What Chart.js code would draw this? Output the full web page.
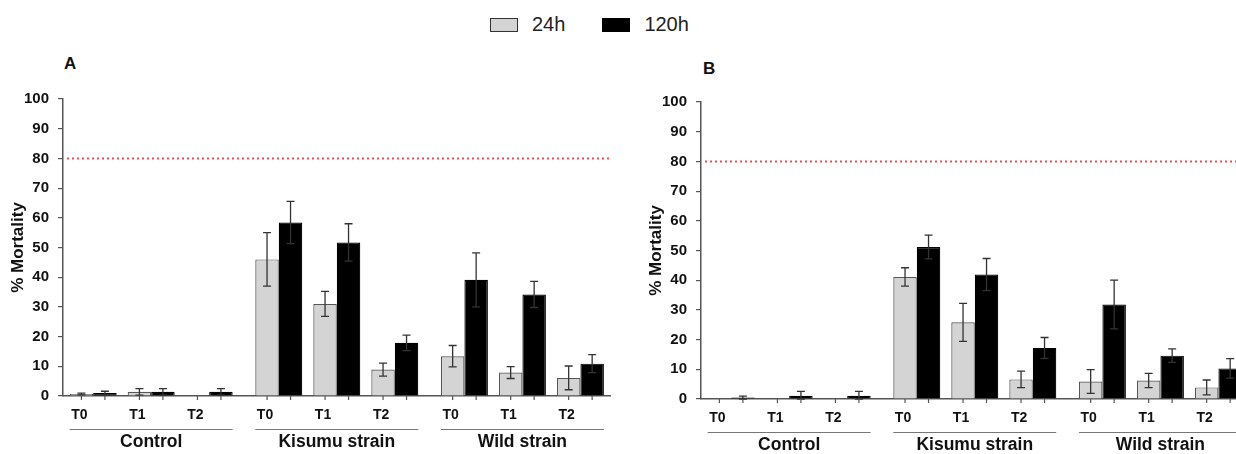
<!DOCTYPE html>
<html>
<head>
<meta charset="utf-8">
<script src="https://cdn.jsdelivr.net/npm/chart.js@4.4.1/dist/chart.umd.min.js"></script>
<style>
  html, body { margin: 0; padding: 0; background: #fff; }
  body { width: 1236px; height: 454px; overflow: hidden; position: relative; font-family: "Liberation Sans", Arial, sans-serif; }
  .panel { position: absolute; width: 625px; height: 454px; }
  .letter { position: absolute; font-weight: bold; font-size: 17px; color: #111; }
  #legend { position: absolute; left: 490px; top: 13px; display: flex; align-items: center; font-size: 20px; color: #222; }
  #legend .sw { display: inline-block; width: 28px; height: 14px; box-sizing: border-box; margin-right: 14px; }
  #legend .item { display: flex; align-items: center; margin-right: 37px; }
</style>
</head>
<body>
<div id="legend"></div>
<div class="letter" style="left:64px;top:54px">A</div>
<div class="letter" style="left:703px;top:59px">B</div>
<div class="panel" style="left:0;top:0"><canvas id="chartA"></canvas></div>
<div class="panel" style="left:638px;top:3px"><canvas id="chartB"></canvas></div>
<script>
// categories
const timeLabels = ['T0', 'T1', 'T2', 'T0', 'T1', 'T2', 'T0', 'T1', 'T2'];
const groupNames = ['Control', 'Kisumu strain', 'Wild strain'];
const groupOf = [0, 0, 0, 1, 1, 1, 2, 2, 2];
// bar pair positions on the x axis (small extra gap between groups)
const xPos = [0, 1, 2, 3.2, 4.2, 5.2, 6.4, 7.4, 8.4];
const seriesLabels = ['24h', '120h'];
const seriesColors = ['#d4d4d4', '#000000'];
const seriesBorders = ['#555555', '#000000'];
const yTicks = [0, 10, 20, 30, 40, 50, 60, 70, 80, 90, 100];
const threshold = 80;

// panel A
const a24 = [0.7, 1.4, 0, 46.0, 31.0, 8.9, 13.4, 7.9, 6.1];
const a24Err = [0.3, 1.1, 0, 9.0, 4.2, 2.2, 3.6, 2.0, 4.0];
const a120 = [1.0, 1.4, 1.4, 58.4, 51.7, 17.9, 39.1, 34.2, 10.9];
const a120Err = [0.6, 1.1, 1.1, 7.1, 6.3, 2.6, 9.1, 4.4, 3.0];

// panel B
const b24 = [0, 0, 0, 41.1, 25.8, 6.6, 5.9, 6.2, 3.9];
const b24Err = [0, 0, 0, 3.1, 6.4, 2.8, 4.0, 2.4, 2.5];
const b120 = [0.5, 1.1, 1.1, 51.2, 41.9, 17.2, 31.8, 14.6, 10.3];
const b120Err = [0.5, 1.5, 1.5, 4.0, 5.4, 3.5, 8.2, 2.3, 3.3];

const FONT = '"Liberation Sans", Arial, sans-serif';

// legend
const legend = document.getElementById('legend');
seriesLabels.forEach((lab, i) => {
  const it = document.createElement('div');
  it.className = 'item';
  const sw = document.createElement('span');
  sw.className = 'sw';
  sw.style.background = seriesColors[i];
  sw.style.border = '1.5px solid ' + (i === 0 ? '#333' : '#000');
  it.appendChild(sw);
  const t = document.createElement('span');
  t.textContent = lab;
  it.appendChild(t);
  legend.appendChild(it);
});

const errorBars = {
  id: 'errorBars',
  afterDatasetsDraw(chart) {
    const ctx = chart.ctx, y = chart.scales.y;
    ctx.save();
    ctx.strokeStyle = '#333';
    ctx.lineWidth = 1.3;
    chart.data.datasets.forEach((ds, di) => {
      const meta = chart.getDatasetMeta(di);
      meta.data.forEach((el, i) => {
        const v = ds.data[i].y, e = ds.err[i];
        if (!e) return;
        const top = y.getPixelForValue(v + e), bot = y.getPixelForValue(Math.max(0, v - e));
        ctx.beginPath();
        ctx.moveTo(el.x, top); ctx.lineTo(el.x, bot);
        ctx.moveTo(el.x - 4, top); ctx.lineTo(el.x + 4, top);
        ctx.moveTo(el.x - 4, bot); ctx.lineTo(el.x + 4, bot);
        ctx.stroke();
      });
    });
    ctx.restore();
  }
};

const refLine = {
  id: 'refLine',
  beforeDatasetsDraw(chart) {
    const ctx = chart.ctx, a = chart.chartArea;
    const py = chart.scales.y.getPixelForValue(threshold);
    ctx.save();
    ctx.strokeStyle = '#e8505a';
    ctx.lineWidth = 2;
    ctx.setLineDash([2, 3]);
    ctx.beginPath();
    ctx.moveTo(a.left + 4, py); ctx.lineTo(a.right, py);
    ctx.stroke();
    ctx.restore();
  }
};

const xDecor = {
  id: 'xDecor',
  afterDraw(chart) {
    const ctx = chart.ctx, a = chart.chartArea;
    const m0 = chart.getDatasetMeta(0), m1 = chart.getDatasetMeta(1);
    ctx.save();
    // small tick marks under each bar
    ctx.strokeStyle = '#555';
    ctx.lineWidth = 1.2;
    ctx.beginPath();
    [m0, m1].forEach(m => m.data.forEach(el => { ctx.moveTo(el.x, a.bottom); ctx.lineTo(el.x, a.bottom + 4); }));
    ctx.stroke();
    // T0/T1/T2
    ctx.fillStyle = '#111';
    ctx.textAlign = 'center';
    ctx.textBaseline = 'middle';
    ctx.font = 'bold 14px ' + FONT;
    m0.data.forEach((el, i) => ctx.fillText(timeLabels[i], el.x - 2, a.bottom + 19));
    // group lines and names
    groupNames.forEach((g, gi) => {
      const idx = groupOf.map((v, i) => v === gi ? i : -1).filter(i => i >= 0);
      const first = m0.data[idx[0]], last = m1.data[idx[idx.length - 1]];
      const x1 = first.x - first.width / 2, x2 = last.x + last.width / 2;
      ctx.strokeStyle = '#777';
      ctx.lineWidth = 1;
      ctx.beginPath();
      ctx.moveTo(x1, a.bottom + 33.5); ctx.lineTo(x2, a.bottom + 33.5);
      ctx.stroke();
      ctx.font = 'bold 17.5px ' + FONT;
      ctx.fillText(g, (x1 + x2) / 2, a.bottom + 46);
    });
    ctx.restore();
  }
};

function makeChart(id, v24, e24, v120, e120) {
  const pts = vals => xPos.map((x, i) => ({ x: x, y: vals[i] }));
  return new Chart(document.getElementById(id), {
    type: 'bar',
    data: {
      datasets: [
        { label: seriesLabels[0], data: pts(v24), err: e24, backgroundColor: seriesColors[0], borderColor: seriesBorders[0], borderWidth: 1.2 },
        { label: seriesLabels[1], data: pts(v120), err: e120, backgroundColor: seriesColors[1], borderColor: seriesBorders[1], borderWidth: 1.2 }
      ]
    },
    options: {
      responsive: true,
      maintainAspectRatio: false,
      animation: false,
      categoryPercentage: 0.81,
      barPercentage: 1.0,
      layout: { padding: { left: 0, right: 15, top: 99, bottom: 58 } },
      plugins: { legend: { display: false }, tooltip: { enabled: false } },
      scales: {
        x: {
          type: 'linear', min: -0.52, max: 8.91, offset: false,
          grid: { display: false, offset: false },
          ticks: { display: false },
          border: { display: true, color: '#555', width: 1.5 },
          afterBuildTicks: s => { s.ticks = xPos.map(v => ({ value: v })); },
          afterFit: s => { s.height = 0; }
        },
        y: {
          min: 0, max: 100,
          afterBuildTicks: s => { s.ticks = yTicks.map(v => ({ value: v })); },
          ticks: { color: '#111', padding: 9, font: { family: FONT, size: 15, weight: 'bold' } },
          grid: { drawOnChartArea: false, drawTicks: true, tickLength: 5, color: '#555', lineWidth: 1.2 },
          border: { color: '#555', width: 1.5 },
          title: { display: true, text: '% Mortality', color: '#111', padding: { top: 8, bottom: 0 }, font: { family: FONT, size: 17, weight: 'bold' } },
          afterFit: s => { s.width = 63; }
        }
      }
    },
    plugins: [refLine, errorBars, xDecor]
  });
}

makeChart('chartA', a24, a24Err, a120, a120Err);
makeChart('chartB', b24, b24Err, b120, b120Err);
</script>
</body>
</html>
